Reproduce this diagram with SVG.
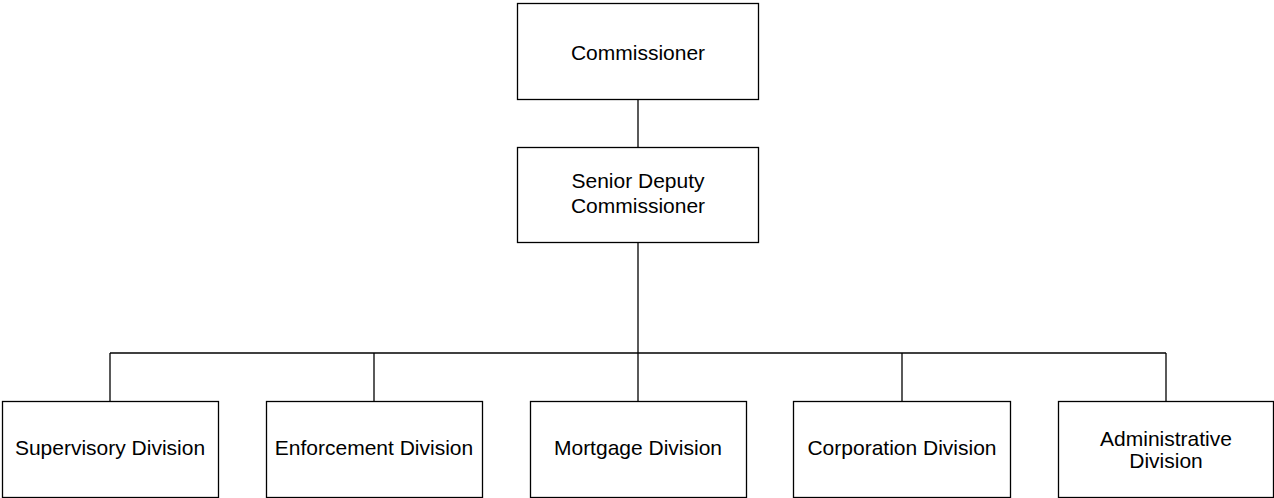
<svg xmlns="http://www.w3.org/2000/svg" width="1274" height="498" viewBox="0 0 1274 498">
<style>
.box{fill:#fff;stroke:#000;stroke-width:1.3}
.lbl{font-family:"Liberation Sans",Arial,sans-serif;font-size:21px;fill:#000;text-anchor:middle}
.conn{fill:none;stroke:#000;stroke-width:1.3}
</style>
<rect width="1274" height="498" fill="#fff"/>
<g id="connectors">
<line class="conn" x1="638" y1="99" x2="638" y2="147"/>
<line class="conn" x1="638" y1="242" x2="638" y2="401"/>
<line class="conn" x1="110" y1="353" x2="1166" y2="353"/>
<line class="conn" x1="110" y1="353" x2="110" y2="401"/>
<line class="conn" x1="374" y1="353" x2="374" y2="401"/>
<line class="conn" x1="902" y1="353" x2="902" y2="401"/>
<line class="conn" x1="1166" y1="353" x2="1166" y2="401"/>
</g>
<g id="commissioner">
<rect class="box" x="517.5" y="3.5" width="241" height="96"/>
<text class="lbl" x="638" y="60">Commissioner</text>
</g>
<g id="senior-deputy">
<rect class="box" x="517.5" y="147.5" width="241" height="95"/>
<text class="lbl" x="638" y="188">Senior Deputy</text>
<text class="lbl" x="638" y="213">Commissioner</text>
</g>
<g id="supervisory">
<rect class="box" x="2.5" y="401.5" width="216" height="96"/>
<text class="lbl" x="110" y="455">Supervisory Division</text>
</g>
<g id="enforcement">
<rect class="box" x="266.5" y="401.5" width="216" height="96"/>
<text class="lbl" x="374" y="455">Enforcement Division</text>
</g>
<g id="mortgage">
<rect class="box" x="530.5" y="401.5" width="216" height="96"/>
<text class="lbl" x="638" y="455">Mortgage Division</text>
</g>
<g id="corporation">
<rect class="box" x="793.5" y="401.5" width="217" height="96"/>
<text class="lbl" x="902" y="455">Corporation Division</text>
</g>
<g id="administrative">
<rect class="box" x="1058.5" y="401.5" width="215" height="96"/>
<text class="lbl" x="1166" y="446">Administrative</text>
<text class="lbl" x="1166" y="468">Division</text>
</g>
</svg>
